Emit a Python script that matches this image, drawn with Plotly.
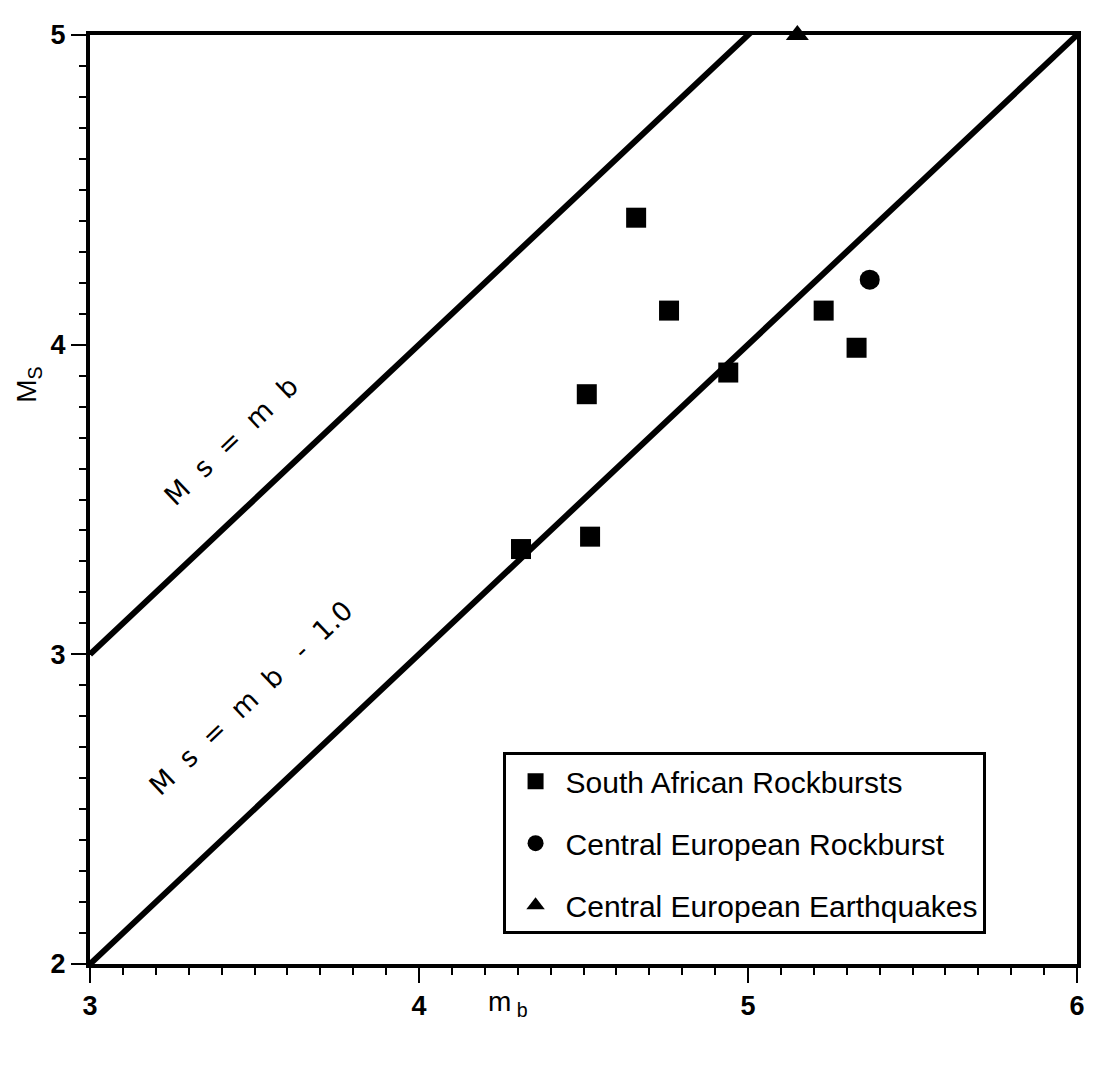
import plotly.graph_objects as go

# South African rockbursts
sa_mb = [4.31, 4.52, 4.51, 4.66, 4.76, 4.94, 5.23, 5.33]
sa_ms = [3.34, 3.38, 3.84, 4.41, 4.11, 3.91, 4.11, 3.99]
# Central European rockburst
ce_rb_mb = [5.37]
ce_rb_ms = [4.21]
# Central European earthquakes
ce_eq_mb = [5.15]
ce_eq_ms = [5.0]

# reference lines Ms = mb and Ms = mb - 1.0
line_mb = [3, 6]
line1_ms = [3, 6]
line2_ms = [2, 5]

fig = go.Figure()

fig.add_trace(go.Scatter(x=line_mb, y=line1_ms, mode="lines", line=dict(color="black", width=6),
                         showlegend=False))
fig.add_trace(go.Scatter(x=line_mb, y=line2_ms, mode="lines", line=dict(color="black", width=6),
                         showlegend=False))

fig.add_trace(go.Scatter(x=sa_mb, y=sa_ms, mode="markers", name="South African Rockbursts",
                         legendgroup="a", marker=dict(symbol="square", size=20, color="black")))
fig.add_trace(go.Scatter(x=ce_rb_mb, y=ce_rb_ms, mode="markers", name="Central European Rockburst",
                         legendgroup="b", marker=dict(symbol="circle", size=20, color="black")))
fig.add_trace(go.Scatter(x=ce_eq_mb, y=ce_eq_ms, mode="markers", name="Central European Earthquakes",
                         legendgroup="c", marker=dict(symbol="triangle-up", size=20, color="black"),
                         cliponaxis=False))

# labels along the lines
fig.add_annotation(x=3.43, y=3.69, text="M  s  =  m  b", showarrow=False, textangle=-43.5,
                   font=dict(family="DejaVu Sans", size=27, color="black"))
fig.add_annotation(x=3.49, y=2.86, text="M  s  =  m  b   -  1.0", showarrow=False, textangle=-43.5,
                   font=dict(family="DejaVu Sans", size=27, color="black"))

# axis titles, placed where the original puts them (off-centre)
fig.add_annotation(x=4.27, xref="x", y=-0.043, yref="paper", yanchor="middle",
                   text="m<sub> b</sub>", showarrow=False,
                   font=dict(family="Arial", size=28, color="black"))
fig.add_annotation(x=-0.062, xref="paper", y=3.87, yref="y", xanchor="center",
                   text="M<sub>S</sub>", showarrow=False, textangle=-90,
                   font=dict(family="Arial", size=28, color="black"))

axis_common = dict(
    showgrid=False, zeroline=False, showline=True, linecolor="black", linewidth=4,
    mirror=True, ticks="outside", tickwidth=2, ticklen=15, tickcolor="black",
    tickfont=dict(family="Arial", size=27, color="black", weight="bold"),
    minor=dict(dtick=0.1, ticks="outside", ticklen=7, tickwidth=2, tickcolor="black"),
)

fig.update_xaxes(range=[3, 6], dtick=1, **axis_common)
fig.update_yaxes(range=[2, 5], dtick=1, **axis_common)

# the page body adds an 8px margin, so the figure is 8px smaller on each side
fig.update_layout(
    width=1089, height=1061,
    margin=dict(l=82, r=14, t=12, b=105),
    plot_bgcolor="white", paper_bgcolor="white",
    legend=dict(x=0.418, y=0.228, xanchor="left", yanchor="top",
                bordercolor="black", borderwidth=3, bgcolor="white",
                font=dict(family="Arial", size=30, color="black"),
                tracegroupgap=20, itemsizing="trace", itemwidth=50),
)

fig.write_html("out.html")
